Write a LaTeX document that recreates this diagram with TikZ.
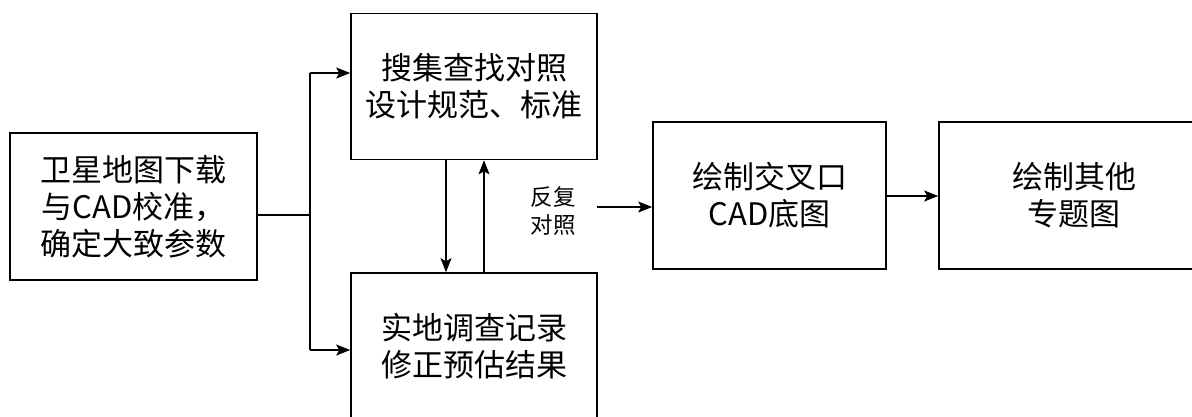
\documentclass[tikz,border=0pt]{standalone}
\usepackage{fontspec}
\newfontfamily\cjk{Noto Sans CJK SC}
\usetikzlibrary{arrows.meta,calc}
\tikzset{
  box/.style={draw,line width=1.6pt,minimum width=#1,inner sep=0pt,align=center,font=\cjk\fontsize{31}{37}\selectfont},
  box/.default=246pt,
  arr/.style={line width=1.6pt,-{Stealth[length=14pt,width=11pt,inset=3pt]}},
  ln/.style={line width=1.6pt},
  lbl/.style={align=center,inner sep=0pt,font=\cjk\fontsize{22.5}{28}\selectfont}
}
\begin{document}
\begin{tikzpicture}[x=1pt,y=-1pt]
\useasboundingbox (0,0) rectangle (1192,416);
\clip (0,0) rectangle (1192,416);
\node[box=247pt,minimum height=147pt] (A) at (133.5,206.5) {卫星地图下载\\与CAD校准，\\确定大致参数};
\node[box=246pt,minimum height=146pt] (B) at (474,86.5) {搜集查找对照\\设计规范、标准};
\node[box=246pt,minimum height=147pt] (C) at (474,346.5) {实地调查记录\\修正预估结果};
\node[box=233pt,minimum height=147pt] (D) at (769.5,195.5) {绘制交叉口\\CAD底图};
\node[box=270pt,minimum height=147pt,text width=234pt] (E) at (1074,195.5) {绘制其他\\专题图};
\node[lbl] (L) at (553,211) {反复\\对照};
\coordinate (j) at (310,215);
\coordinate (jt) at (310,73);
\coordinate (jb) at (310,350);
\draw[ln] (A.east |- j) -- (j);
\draw[ln] (jt) -- (jb);
\draw[arr] (jt) -- (jt -| B.west);
\draw[arr] (jb) -- (jb -| C.west);
\coordinate (dn) at (446,0);
\coordinate (up) at (484,0);
\draw[arr] (dn |- B.south) -- (dn |- C.north);
\draw[arr] (up |- C.north) -- (up |- B.south);
\coordinate (r) at (597,207);
\draw[arr] (r) -- (r -| D.west);
\draw[arr] (D.east |- 0,196) -- (E.west |- 0,196);
\end{tikzpicture}
\end{document}
